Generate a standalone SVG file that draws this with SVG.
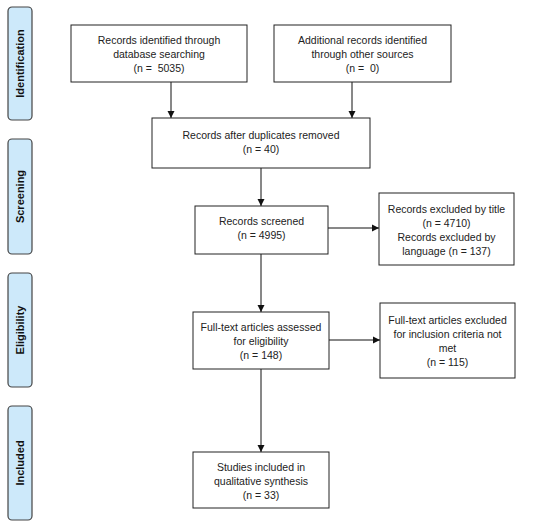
<svg xmlns="http://www.w3.org/2000/svg" width="550" height="525" viewBox="0 0 550 525">
<defs>
<style>
.box{fill:#fff;stroke:#222;stroke-width:1}
.side{fill:#cde9fa;stroke:#444;stroke-width:1.2}
.t{font-family:"Liberation Sans",Arial,sans-serif;font-size:10.5px;fill:#222;text-anchor:middle;white-space:pre}
.s{font-family:"Liberation Sans",Arial,sans-serif;font-size:11px;font-weight:bold;fill:#111;text-anchor:middle}
.c{stroke:#111;stroke-width:1;fill:none;marker-end:url(#ah)}
</style>
<marker id="ah" markerWidth="8" markerHeight="8" refX="7" refY="4" orient="auto" markerUnits="userSpaceOnUse">
<path d="M0,0.5 L7,4 L0,7.5 Z" fill="#111"/>
</marker>
</defs>
<rect width="550" height="525" fill="#fff"/>
<g id="side-identification"><rect class="side" x="8" y="7" width="24" height="113" rx="4"/><text class="s" transform="translate(24,63.5) rotate(-90)">Identification</text></g>
<g id="side-screening"><rect class="side" x="8" y="139" width="24" height="115" rx="4"/><text class="s" transform="translate(24,196.5) rotate(-90)">Screening</text></g>
<g id="side-eligibility"><rect class="side" x="8" y="273" width="24" height="114" rx="4"/><text class="s" transform="translate(24,330) rotate(-90)">Eligibility</text></g>
<g id="side-included"><rect class="side" x="8" y="406" width="24" height="114" rx="4"/><text class="s" transform="translate(24,463) rotate(-90)">Included</text></g>
<g id="connectors">
<path class="c" d="M171,82 V118"/>
<path class="c" d="M352,82 V118"/>
<path class="c" d="M261,168 V206"/>
<path class="c" d="M328,228 H379"/>
<path class="c" d="M261,254 V312"/>
<path class="c" d="M329,340 H380"/>
<path class="c" d="M261,369 V452"/>
</g>
<g id="n1"><rect class="box" x="71" y="25" width="176" height="57"/>
<text class="t" x="159" y="44">Records identified through</text><text class="t" x="159" y="58">database searching</text><text class="t" x="159" y="72" xml:space="preserve">(n =  5035)</text></g>
<g id="n2"><rect class="box" x="274" y="25" width="177" height="57"/>
<text class="t" x="362.5" y="44">Additional records identified</text><text class="t" x="362.5" y="58">through other sources</text><text class="t" x="362.5" y="72" xml:space="preserve">(n =  0)</text></g>
<g id="n3"><rect class="box" x="152" y="118" width="218" height="50"/>
<text class="t" x="261" y="139">Records after duplicates removed</text><text class="t" x="261" y="153">(n = 40)</text></g>
<g id="n4"><rect class="box" x="195" y="206" width="133" height="48"/>
<text class="t" x="261.5" y="225">Records screened</text><text class="t" x="261.5" y="239">(n = 4995)</text></g>
<g id="n5"><rect class="box" x="379" y="193" width="135" height="72"/>
<text class="t" x="446.5" y="213">Records excluded by title</text><text class="t" x="446.5" y="227">(n = 4710)</text><text class="t" x="446.5" y="241">Records excluded by</text><text class="t" x="446.5" y="255">language (n = 137)</text></g>
<g id="n6"><rect class="box" x="193" y="312" width="136" height="57"/>
<text class="t" x="261" y="331">Full-text articles assessed</text><text class="t" x="261" y="345">for eligibility</text><text class="t" x="261" y="359">(n = 148)</text></g>
<g id="n7"><rect class="box" x="380" y="303" width="135" height="75"/>
<text class="t" x="447.5" y="324">Full-text articles excluded</text><text class="t" x="447.5" y="338">for inclusion criteria not</text><text class="t" x="447.5" y="352">met</text><text class="t" x="447.5" y="366">(n = 115)</text></g>
<g id="n8"><rect class="box" x="193" y="452" width="136" height="56"/>
<text class="t" x="261" y="471">Studies included in</text><text class="t" x="261" y="485">qualitative synthesis</text><text class="t" x="261" y="499">(n = 33)</text></g>
</svg>
